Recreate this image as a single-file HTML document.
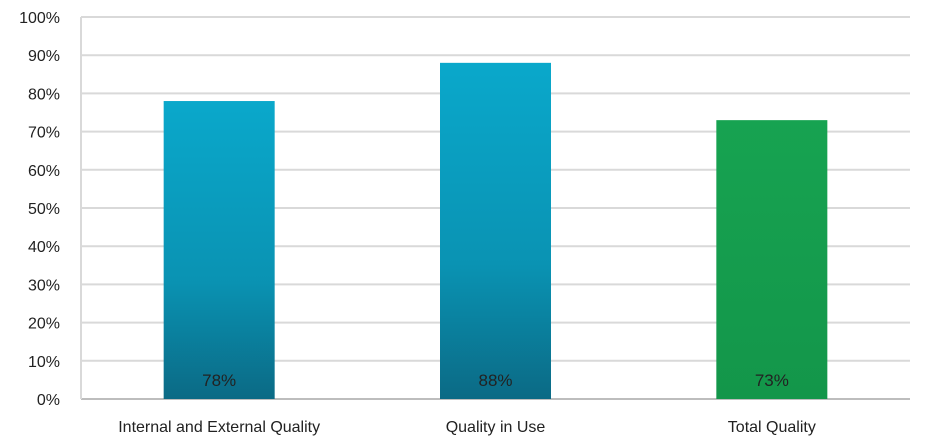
<!DOCTYPE html>
<html><head><meta charset="utf-8"><style>
body{margin:0;background:#fff;width:925px;height:443px;overflow:hidden}
svg text{font-family:"Liberation Sans",sans-serif;fill:#222}
</style></head><body>
<svg id="chart" width="925" height="443" xmlns="http://www.w3.org/2000/svg">
<defs>
<linearGradient id="blueGrad" x1="0" y1="0" x2="0" y2="1"><stop offset="0" stop-color="#0aa8cb"/><stop offset="0.6" stop-color="#0a93b3"/><stop offset="1" stop-color="#0b6a85"/></linearGradient>
<linearGradient id="greenGrad" x1="0" y1="0" x2="0" y2="1"><stop offset="0" stop-color="#17a351"/><stop offset="1" stop-color="#13964a"/></linearGradient>
</defs>
<g id="grid"></g><g id="bars"></g><g id="labels"></g>
</svg>
<script>
const categories = ["Internal and External Quality","Quality in Use","Total Quality"];
const values = [78, 88, 73];
const valueLabels = ["78%","88%","73%"];
const tickValues = [0,10,20,30,40,50,60,70,80,90,100];
const fills = ["url(#blueGrad)","url(#blueGrad)","url(#greenGrad)"];
const NS="http://www.w3.org/2000/svg";
const x0=81, x1=910, yTop=17, yBot=399;
function y(v){return yBot-(v/100)*(yBot-yTop);}
const band=(x1-x0)/categories.length;
function xc(i){return x0+band*(i+0.5);}
const barW=111;
function mk(tag,attrs,parent){const e=document.createElementNS(NS,tag);for(const k in attrs)e.setAttribute(k,attrs[k]);parent.appendChild(e);return e;}
const grid=document.getElementById('grid'),bars=document.getElementById('bars'),labels=document.getElementById('labels');
tickValues.forEach(t=>{
  const l=mk('line',{x1:x0,x2:x1,y1:y(t),y2:y(t),stroke:t===0?'#bdbdbd':'#d9d9d9','stroke-width':2},grid);
  
  
  const tx=mk('text',{x:60,y:y(t)+6,'text-anchor':'end','font-size':16},labels);
  tx.textContent=t+'%';
  
  
});
const ax=mk('line',{x1:x0,x2:x0,y1:yTop,y2:yBot,stroke:'#d9d9d9','stroke-width':2},grid);


values.forEach((v,i)=>{
  const r=mk('rect',{x:xc(i)-barW/2,y:y(v),width:barW,height:yBot-y(v),fill:fills[i]},bars);
  
  
  const vl=mk('text',{x:xc(i),y:yBot-13,'text-anchor':'middle','font-size':17},labels);
  vl.textContent=valueLabels[i];
  
  
  const cl=mk('text',{x:xc(i),y:432,'text-anchor':'middle','font-size':16},labels);
  cl.textContent=categories[i];
  
  
});
</script>
</body></html>
